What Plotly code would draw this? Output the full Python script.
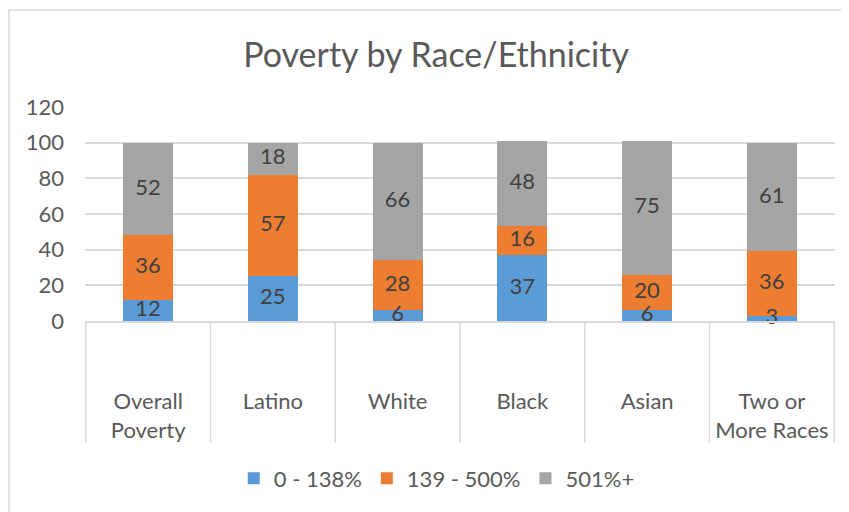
import numpy as np
import plotly.graph_objects as go

categories = ["Overall<br>Poverty", "Latino", "White", "Black", "Asian", "Two or<br>More Races"]
low_income = [12, 25, 6, 37, 6, 3]        # 0 - 138%
mid_income = [36, 57, 28, 16, 20, 36]     # 139 - 500%
high_income = [52, 18, 66, 48, 75, 61]    # 501%+
series_names = ["0 - 138%", "139 - 500%", "501%+"]
y_ticks = [0, 20, 40, 60, 80, 100, 120]

colors = ["#5B9BD5", "#ED7D31", "#A5A5A5"]
FONT = "Lato"
TXT = "#595959"
GRID = "#D9D9D9"

fig = go.Figure()
series = [low_income, mid_income, high_income]
base = np.zeros(len(categories))
for name, vals, col in zip(series_names, series, colors):
    fig.add_trace(go.Bar(
        x=categories, y=vals, name=name, marker=dict(color=col, line=dict(width=0)),
    ))
for vals in series:
    v = np.array(vals, dtype=float)
    fig.add_trace(go.Scatter(
        x=categories, y=base + v / 2, mode="text", text=[str(x) for x in vals],
        textfont=dict(family=FONT, size=22, color="#404040"),
        showlegend=False, hoverinfo="skip", cliponaxis=False,
    ))
    base = base + v

shapes = []
for i in range(len(categories) + 1):
    shapes.append(dict(type="line", xref="x", yref="paper", x0=i - 0.5, x1=i - 0.5,
                       y0=0, y1=-0.569, line=dict(color=GRID, width=1.5)))
shapes.append(dict(type="rect", xref="paper", yref="paper", x0=-0.1013, x1=1.05,
                   y0=-0.99, y1=1.4537, line=dict(color=GRID, width=1.5), layer="below"))

fig.update_layout(
    width=841, height=504,
    margin=dict(l=77, r=14, t=99, b=189),
    paper_bgcolor="white", plot_bgcolor="white",
    barmode="stack", bargap=0.6,
    font=dict(family=FONT, size=22, color=TXT),
    title=dict(text="Poverty by Race/Ethnicity", x=0.509, xanchor="center",
               y=0.907, yanchor="middle", font=dict(family=FONT, size=34, color=TXT)),
    xaxis=dict(showgrid=False, showline=True, linecolor=GRID, linewidth=1.5,
               tickfont=dict(family=FONT, size=22, color=TXT), ticklabelstandoff=60,
               fixedrange=True),
    yaxis=dict(range=[0, 120], tickvals=y_ticks, showgrid=True, gridcolor=GRID, gridwidth=1.5,
               zeroline=False, showline=False, ticklabelstandoff=20,
               tickfont=dict(family=FONT, size=22, color=TXT)),
    legend=dict(orientation="h", x=0.469, xanchor="center", y=-0.736, yanchor="middle",
                font=dict(family=FONT, size=22, color=TXT), traceorder="normal"),
    shapes=shapes,
    showlegend=True,
)

fig.write_html("out.html")
